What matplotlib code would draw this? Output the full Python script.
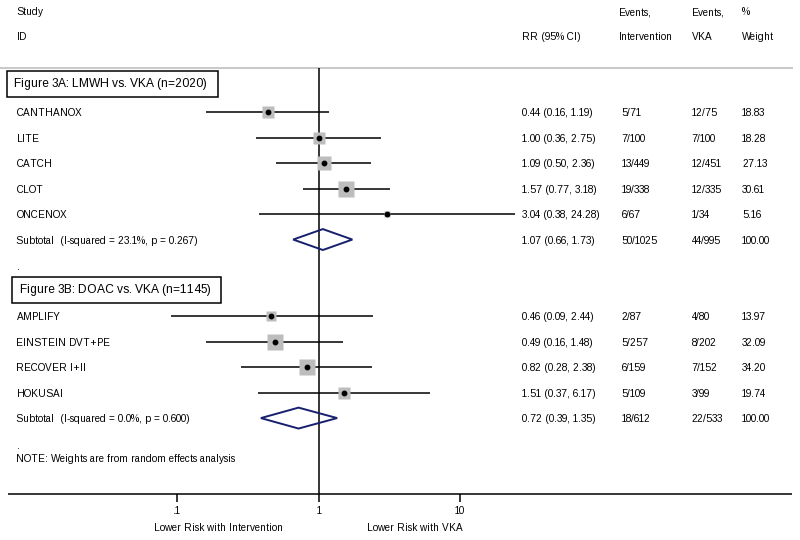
import numpy as np
import matplotlib
matplotlib.use("Agg")
import matplotlib.pyplot as plt
from matplotlib.transforms import blended_transform_factory

plt.rcParams['font.family'] = ['Liberation Sans', 'DejaVu Sans']
plt.rcParams['text.hinting'] = 'auto'
plt.rcParams['text.hinting_factor'] = 1

# ---------------- data ----------------
studies_a = ["CANTHANOX", "LITE", "CATCH", "CLOT", "ONCENOX"]
rr_a = [0.44, 1.00, 1.09, 1.57, 3.04]
lo_a = [0.16, 0.36, 0.50, 0.77, 0.38]
hi_a = [1.19, 2.75, 2.36, 3.18, 24.28]
ev_int_a = ["5/71", "7/100", "13/449", "19/338", "6/67"]
ev_vka_a = ["12/75", "7/100", "12/451", "12/335", "1/34"]
w_a = [18.83, 18.28, 27.13, 30.61, 5.16]
sub_a = (1.07, 0.66, 1.73)
sub_a_ev = ("50/1025", "44/995")
sub_a_label = "Subtotal  (I-squared = 23.1%, p = 0.267)"

studies_b = ["AMPLIFY", "EINSTEIN DVT+PE", "RECOVER I+II", "HOKUSAI"]
rr_b = [0.46, 0.49, 0.82, 1.51]
lo_b = [0.09, 0.16, 0.28, 0.37]
hi_b = [2.44, 1.48, 2.38, 6.17]
ev_int_b = ["2/87", "5/257", "6/159", "5/109"]
ev_vka_b = ["4/80", "8/202", "7/152", "3/99"]
w_b = [13.97, 32.09, 34.20, 19.74]
sub_b = (0.72, 0.39, 1.35)
sub_b_ev = ("18/612", "22/533")
sub_b_label = "Subtotal  (I-squared = 0.0%, p = 0.600)"

tick_vals = [0.1, 1, 10]
tick_labels = [".1", "1", "10"]

# ---------------- layout ----------------
W, H = 800, 540
fig = plt.figure(figsize=(W / 100, H / 100), dpi=100)
ax = fig.add_axes([0, 0, 1, 1])
ax.set_xscale('log')
ax.set_xlim(10 ** (-318.7 / 141.35), 10 ** ((W - 318.7) / 141.35))
ax.set_ylim(16.78, -4.392)
ax.axis('off')

tr = blended_transform_factory(ax.transAxes, ax.transData)
def px(x):
    return x / W

fs = 7.0
col_name = px(16.5)
col_rr = px(522.5)
col_ei_h = px(618.5)
col_ei = px(621.5)
col_ev = px(691.5)
col_w = px(742)

def txt(x, y, s, **kw):
    kw.setdefault('fontsize', fs)
    ax.text(x, y, s, transform=tr, va='center_baseline', ha='left', **kw)

# header
txt(col_name, -3.96, "Study")
txt(col_name, -2.98, "ID")
txt(col_rr, -2.98, "RR (95% CI)")
txt(col_ei_h, -3.96, "Events,")
txt(col_ei_h, -2.98, "Intervention")
txt(col_ev, -3.96, "Events,")
txt(col_ev, -2.98, "VKA")
txt(col_w, -3.96, "%")
txt(col_w, -2.98, "Weight")

# separator line and axis line
ax.plot([0, px(793)], [-1.725, -1.725], transform=tr, color='#c4c4c4', lw=1.3, solid_capstyle='butt')
ax.plot([px(8), px(792)], [14.98, 14.98], transform=tr, color='black', lw=1.1, solid_capstyle='butt')

# reference line at 1
ax.vlines(1, -1.725, 14.98, color='black', lw=1.1)

# ticks
ax.vlines(tick_vals, 14.98, 15.28, color='black', lw=1.1)
for v, l in zip(tick_vals, tick_labels):
    ax.text(v, 15.62, l, ha='center', va='center_baseline', fontsize=fs)
ax.text(10 ** ((218 - 318.7) / 141.35), 16.28, "Lower Risk with Intervention", ha='center',
        va='center_baseline', fontsize=fs)
ax.text(10 ** ((415 - 318.7) / 141.35), 16.28, "Lower Risk with VKA", ha='center',
        va='center_baseline', fontsize=fs)

# group label boxes
ax.text(px(14.5), -1.1, "Figure 3A: LMWH vs. VKA (n=2020) ", transform=tr, va='center', ha='left',
        fontsize=8.8, bbox=dict(boxstyle='square,pad=0.6', fc='white', ec='black', lw=1.1))
ax.text(px(19.5), 6.98, "Figure 3B: DOAC vs. VKA (n=1145) ", transform=tr, va='center', ha='left',
        fontsize=8.8, bbox=dict(boxstyle='square,pad=0.6', fc='white', ec='black', lw=1.1))

def draw_group(start, names, rr, lo, hi, ei, ev, w, sub, sub_ev, sub_label):
    for i, (n, r, l, h, a, b, wt) in enumerate(zip(names, rr, lo, hi, ei, ev, w)):
        y = start + i
        ax.hlines(y, l, h, color='black', lw=1.1)
        side_pt = 2.75 * np.sqrt(wt) * 0.72
        ax.plot([r], [y], marker='s', ms=side_pt, mfc='#bdbdbd', mec='none', zorder=3)
        ax.plot([r], [y], marker='o', ms=3.2, mfc='black', mec='black', zorder=4)
        txt(col_name, y, n)
        txt(col_rr, y, f"{r:.2f} ({l:.2f}, {h:.2f})")
        txt(col_ei, y, a)
        txt(col_ev, y, b)
        txt(col_w, y, f"{wt:.2f}")
    y = start + len(names)
    r, l, h = sub
    hh = 0.41
    ax.fill([l, r, h, r, l], [y, y - hh, y, y + hh, y], fc='none', ec='#16206e', lw=1.4, zorder=5,
            joinstyle='miter')
    txt(col_name, y, sub_label)
    txt(col_rr, y, f"{r:.2f} ({l:.2f}, {h:.2f})")
    txt(col_ei, y, sub_ev[0])
    txt(col_ev, y, sub_ev[1])
    txt(col_w, y, "100.00")
    txt(col_name, y + 1.05, ".")

draw_group(0, studies_a, rr_a, lo_a, hi_a, ev_int_a, ev_vka_a, w_a, sub_a, sub_a_ev, sub_a_label)
draw_group(8, studies_b, rr_b, lo_b, hi_b, ev_int_b, ev_vka_b, w_b, sub_b, sub_b_ev, sub_b_label)

txt(col_name, 13.55, "NOTE: Weights are from random effects analysis")

fig.savefig("out.png", dpi=100)
